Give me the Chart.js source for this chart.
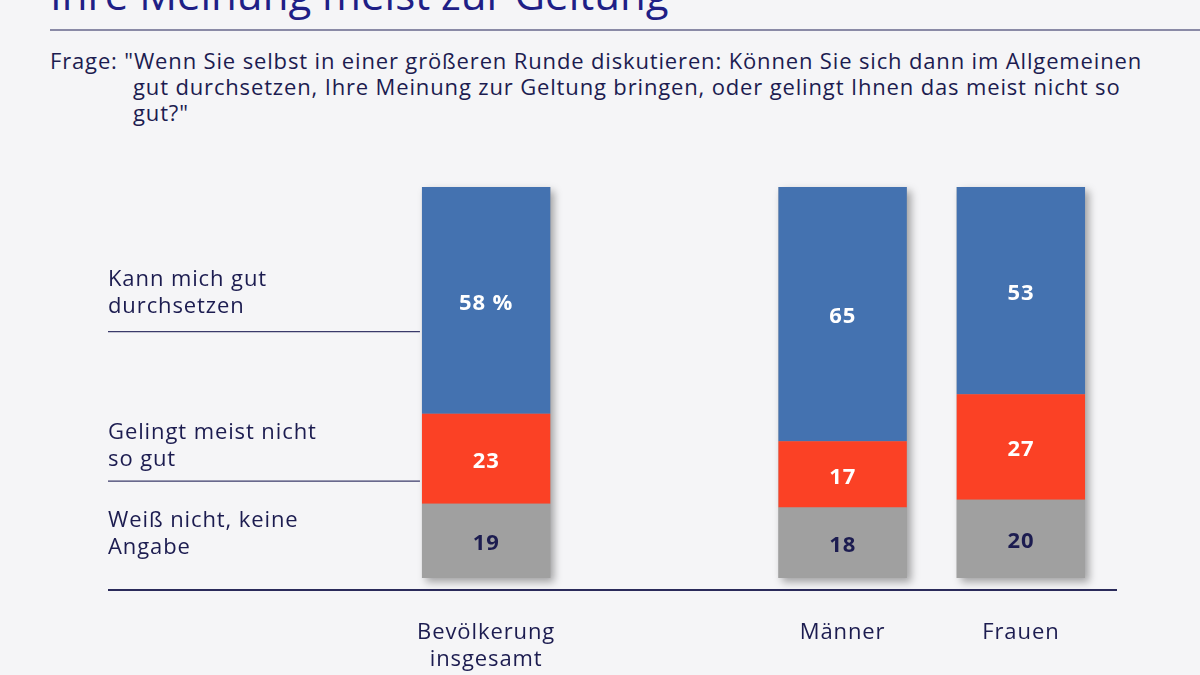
<!DOCTYPE html>
<html lang="de">
<head>
<meta charset="utf-8">
<script src="https://cdn.jsdelivr.net/npm/chart.js@4/dist/chart.umd.min.js"></script>
<style>
  html, body { margin: 0; padding: 0; background: #f5f5f7; }
  body { width: 1200px; height: 675px; position: relative; overflow: hidden; font-family: 'Open Sans', sans-serif; color: #1c1c50; }
  #title { position: absolute; left: 50px; top: -35px; font-size: 42px; color: #1f1f86; white-space: nowrap; }
  #rule { position: absolute; left: 50px; right: 0; top: 29px; height: 2px; background: #8a8aa6; }
  #question { position: absolute; left: 50px; top: 47px; font-size: 22px; line-height: 26px; white-space: nowrap; letter-spacing: 0.85px; }
  #question .ind { padding-left: 83px; }
  #wrap { position: absolute; left: 0; top: 0; width: 1200px; height: 675px; }
</style>
</head>
<body>
<div id="title">Ihre Meinung meist zur Geltung</div>
<div id="rule"></div>
<div id="question">
  <div>Frage: "Wenn Sie selbst in einer größeren Runde diskutieren: Können Sie sich dann im Allgemeinen</div>
  <div class="ind">gut durchsetzen, Ihre Meinung zur Geltung bringen, oder gelingt Ihnen das meist nicht so</div>
  <div class="ind">gut?"</div>
</div>
<div id="wrap"><canvas id="chart"></canvas></div>
<script>
  // ---- DATA ----
  const categories = [['Bevölkerung', 'insgesamt'], '', 'Männer', 'Frauen'];
  const durchsetzen = [58, null, 65, 53];
  const nichtSoGut = [23, null, 17, 27];
  const weissNicht = [19, null, 18, 20];
  const seriesLabels = [['Kann mich gut', 'durchsetzen'], ['Gelingt meist nicht', 'so gut'], ['Weiß nicht, keine', 'Angabe']];

  const NAVY = '#1c1c50';

  // wider letter spacing for all canvas text
  const spacingPlugin = {
    id: 'spacing',
    beforeDraw(chart) { chart.ctx.letterSpacing = '0.9px'; }
  };

  // shadow boxes behind each stacked bar
  const shadowPlugin = {
    id: 'barShadow',
    beforeDatasetsDraw(chart) {
      const ctx = chart.ctx;
      const bottom = chart.getDatasetMeta(0);
      const top = chart.getDatasetMeta(2);
      ctx.save();
      ctx.shadowColor = 'rgba(0,0,0,0.35)';
      ctx.shadowBlur = 8;
      ctx.shadowOffsetX = 4;
      ctx.shadowOffsetY = 4;
      ctx.fillStyle = '#a0a0a0';
      top.data.forEach((el, i) => {
        if (durchsetzen[i] == null) return;
        const b = bottom.data[i];
        ctx.fillRect(el.x - el.width / 2, el.y, el.width, b.base - el.y);
      });
      ctx.restore();
    }
  };

  // value labels, left side labels, baseline
  const annotPlugin = {
    id: 'annot',
    afterDatasetsDraw(chart) {
      const ctx = chart.ctx;
      const area = chart.chartArea;
      ctx.save();
      ctx.textAlign = 'center';
      ctx.textBaseline = 'middle';
      ctx.font = 'bold 22px "Open Sans", sans-serif';
      chart.data.datasets.forEach((ds, di) => {
        chart.getDatasetMeta(di).data.forEach((el, i) => {
          const v = ds.data[i];
          if (v == null) return;
          let txt = String(v);
          if (i === 0 && di === 2) txt += ' %';
          ctx.fillStyle = di === 0 ? NAVY : '#ffffff';
          ctx.fillText(txt, el.x, (el.y + el.base) / 2 + 3);
        });
      });

      // baseline
      ctx.strokeStyle = '#2a2a5a';
      ctx.lineWidth = 2;
      ctx.beginPath();
      ctx.moveTo(108, area.bottom + 12);
      ctx.lineTo(1117, area.bottom + 12);
      ctx.stroke();

      // left series labels with separator lines
      const firstBar = chart.getDatasetMeta(0).data[0];
      const lineEnd = firstBar.x - firstBar.width / 2 - 2;
      const y = chart.scales.y;
      const labelTops = [280, 433, 521];
      const sepLines = [y.getPixelForValue(63), y.getPixelForValue(24.8)];
      ctx.textAlign = 'left';
      ctx.font = '22px "Open Sans", sans-serif';
      ctx.fillStyle = NAVY;
      seriesLabels.forEach((lines, k) => {
        lines.forEach((ln, j) => ctx.fillText(ln, 108, labelTops[k] + j * 27));
      });
      ctx.strokeStyle = '#3a3a6a';
      ctx.lineWidth = 1.2;
      sepLines.forEach(py => {
        ctx.beginPath();
        ctx.moveTo(108, py);
        ctx.lineTo(lineEnd, py);
        ctx.stroke();
      });
      ctx.restore();
    }
  };

  new Chart(document.getElementById('chart').getContext('2d'), {
    type: 'bar',
    data: {
      labels: categories,
      datasets: [
        { label: 'Weiß nicht, keine Angabe', data: weissNicht, backgroundColor: '#a0a0a0' },
        { label: 'Gelingt meist nicht so gut', data: nichtSoGut, backgroundColor: '#fb4125' },
        { label: 'Kann mich gut durchsetzen', data: durchsetzen, backgroundColor: '#4472b0' }
      ]
    },
    options: {
      responsive: true,
      maintainAspectRatio: false,
      animation: false,
      events: [],
      layout: { padding: { left: 397, right: 90, top: 187, bottom: 4 } },
      datasets: { bar: { categoryPercentage: 1, barPercentage: 0.72, borderWidth: 0 } },
      plugins: { legend: { display: false }, tooltip: { enabled: false } },
      scales: {
        x: {
          stacked: true,
          grid: { display: false, drawTicks: false },
          border: { display: false },
          afterFit(scale) { scale.height = 93; },
          ticks: { color: NAVY, font: { family: 'Open Sans', size: 22 }, padding: 42, maxRotation: 0, autoSkip: false }
        },
        y: { stacked: true, display: false, min: 0, max: 100 }
      }
    },
    plugins: [spacingPlugin, shadowPlugin, annotPlugin]
  });
</script>
</body>
</html>
